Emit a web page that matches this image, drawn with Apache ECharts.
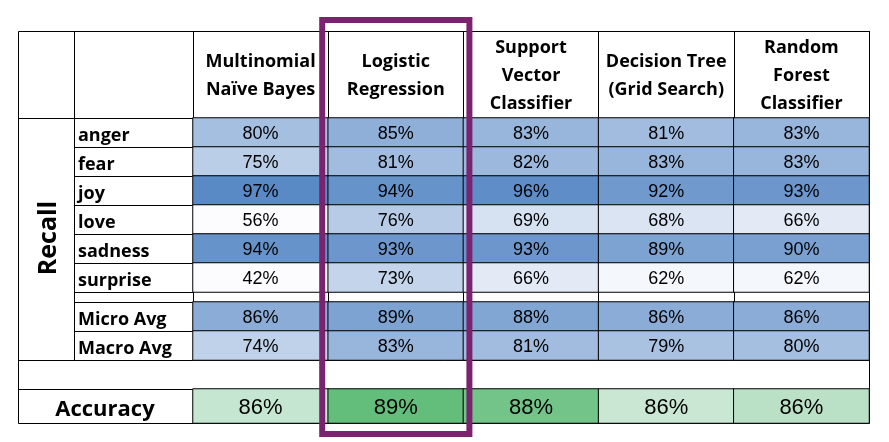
<!DOCTYPE html>
<html>
<head>
<meta charset="utf-8">
<script src="https://cdn.jsdelivr.net/npm/echarts@6/dist/echarts.min.js"></script>
<style>
    html, body { margin: 0; padding: 0; background: #fff; }
    #chart { width: 889px; height: 442px; }
</style>
</head>
<body>
<div id="chart"></div>
<script>
const models = ["Multinomial\nNaïve Bayes", "Logistic\nRegression", "Support\nVector\nClassifier", "Decision Tree\n(Grid Search)", "Random\nForest\nClassifier"];
const emotions = ["anger", "fear", "joy", "love", "sadness", "surprise"];
const avgNames = ["Micro Avg", "Macro Avg"];

// recall per emotion, one array per model (same order as models)
const mnbRecall = [80, 75, 97, 56, 94, 42];
const lrRecall = [85, 81, 94, 76, 93, 73];
const svcRecall = [83, 82, 96, 69, 93, 66];
const dtRecall = [81, 83, 92, 68, 89, 62];
const rfRecall = [83, 83, 93, 66, 90, 62];

const microAvg = [86, 89, 88, 86, 86];
const macroAvg = [74, 83, 81, 79, 80];
const accuracy = [86.0, 88.7, 88.3, 85.9, 86.3];

const headFont = "Open Sans";
const numFont = "Liberation Sans";

const recallByModel = [mnbRecall, lrRecall, svcRecall, dtRecall, rfRecall];
const recallCells = [];
recallByModel.forEach((vals, i) => vals.forEach((v, j) => recallCells.push([i, j, v])));
const avgCells = [];
microAvg.forEach((v, i) => avgCells.push([i, 0, v]));
macroAvg.forEach((v, i) => avgCells.push([i, 1, v]));
const accCells = accuracy.map((v, i) => [i, 0, v]);

const chart = echarts.init(document.getElementById("chart"));

const black = { color: "#000", width: 1 };
const cellLabel = size => ({
    show: true,
    formatter: p => `${Math.round(p.value[2])}%`,
    fontFamily: numFont,
    fontSize: size,
    color: "#000",
    offset: [0, 2]
});
const rowLabel = {
    align: "left",
    margin: 115,
    formatter: v => `{t|${v}}`,
    rich: {
        t: {
            fontFamily: headFont, fontWeight: "bold", fontSize: 18, color: "#000",
            padding: [7, 0, 0, 0]
        }
    }
};

chart.setOption({
    animation: false,
    grid: [
        { left: 193, right: 20, top: 118, height: 174 },
        { left: 193, right: 20, top: 302, height: 58 },
        { left: 193, right: 20, top: 389, height: 34 }
    ],
    xAxis: [
        {
            gridIndex: 0, type: "category", data: models, position: "top",
            axisLine: { show: true, lineStyle: black },
            axisTick: { show: true, length: 87, lineStyle: black },
            axisLabel: {
                interval: 0, margin: 42, verticalAlign: "middle",
                fontFamily: headFont, fontWeight: "bold", fontSize: 18, lineHeight: 28, color: "#000"
            },
            splitLine: { show: false }
        },
        {
            gridIndex: 1, type: "category", data: models, position: "top",
            axisLine: { show: true, lineStyle: black },
            axisTick: { show: true, length: 10, lineStyle: black },
            axisLabel: { show: false },
            splitLine: { show: false }
        },
        {
            gridIndex: 2, type: "category", data: models,
            axisLine: { show: false }, axisTick: { show: false },
            axisLabel: { show: false }, splitLine: { show: false }
        }
    ],
    yAxis: [
        {
            gridIndex: 0, type: "category", data: emotions, inverse: true,
            axisLine: { show: true, lineStyle: black },
            axisTick: { show: true, length: 119, lineStyle: black },
            axisLabel: rowLabel
        },
        {
            gridIndex: 1, type: "category", data: avgNames, inverse: true,
            axisLine: { show: true, lineStyle: black },
            axisTick: { show: true, length: 119, lineStyle: black },
            axisLabel: rowLabel
        },
        {
            gridIndex: 2, type: "category", data: ["Accuracy"],
            axisLine: { show: false }, axisTick: { show: false },
            axisLabel: {
                align: "center", margin: 88,
                formatter: v => `{t|${v}}`,
                rich: {
                    t: {
                        fontFamily: headFont, fontWeight: "bold", fontSize: 22, color: "#000",
                        padding: [7, 0, 0, 0]
                    }
                }
            }
        }
    ],
    visualMap: [
        {
            type: "continuous", show: false, seriesIndex: [0, 1], dimension: 2,
            min: 60.3, max: 97,
            inRange: { color: ["#FCFCFF", "#5A8AC6"] },
            outOfRange: { color: "#FCFCFF" }
        },
        {
            type: "continuous", show: false, seriesIndex: 2, dimension: 2,
            min: 84.5, max: 88.7,
            inRange: { color: ["#FCFCFF", "#63BE7B"] },
            outOfRange: { color: "#FCFCFF" }
        }
    ],
    series: [
        {
            type: "heatmap", xAxisIndex: 0, yAxisIndex: 0, data: recallCells,
            itemStyle: { borderColor: "#000", borderWidth: 1 },
            label: cellLabel(18), emphasis: { disabled: true }
        },
        {
            type: "heatmap", xAxisIndex: 1, yAxisIndex: 1, data: avgCells,
            itemStyle: { borderColor: "#000", borderWidth: 1 },
            label: cellLabel(18), emphasis: { disabled: true }
        },
        {
            type: "heatmap", xAxisIndex: 2, yAxisIndex: 2, data: accCells,
            itemStyle: { borderColor: "#000", borderWidth: 1 },
            label: cellLabel(22), emphasis: { disabled: true }
        }
    ]
});

// frame lines and the highlight box, placed from the axis positions
const p0 = chart.convertToPixel({ xAxisIndex: 0 }, models[0]);
const p1 = chart.convertToPixel({ xAxisIndex: 0 }, models[1]);
const band = p1 - p0;
const lrLeft = p1 - band / 2;

const hLine = (x1, x2, y) => ({ type: "line", shape: { x1, y1: y + 0.5, x2, y2: y + 0.5 }, style: { stroke: "#000", lineWidth: 1 } });
const vLine = (x, y1, y2) => ({ type: "line", shape: { x1: x + 0.5, y1, x2: x + 0.5, y2 }, style: { stroke: "#000", lineWidth: 1 } });

chart.setOption({
    graphic: [
        { type: "rect", shape: { x: 18.5, y: 31.5, width: 851, height: 392 }, style: { fill: "none", stroke: "#000", lineWidth: 1 } },
        vLine(74, 31, 360),
        vLine(193, 31, 360),
        vLine(193, 389, 423),
        hLine(18, 193, 118),
        hLine(18, 869, 360),
        hLine(18, 869, 389),
        {
            type: "text", x: 49, y: 238, rotation: Math.PI / 2,
            style: {
                text: "Recall", font: `bold 25px "${headFont}"`,
                textAlign: "center", textVerticalAlign: "middle", fill: "#000"
            }
        },
        {
            type: "rect", z: 100,
            shape: { x: lrLeft - 6, y: 20, width: band + 12, height: 414 },
            style: { fill: "none", stroke: "#7A2470", lineWidth: 6 }
        }
    ]
});
</script>
</body>
</html>
